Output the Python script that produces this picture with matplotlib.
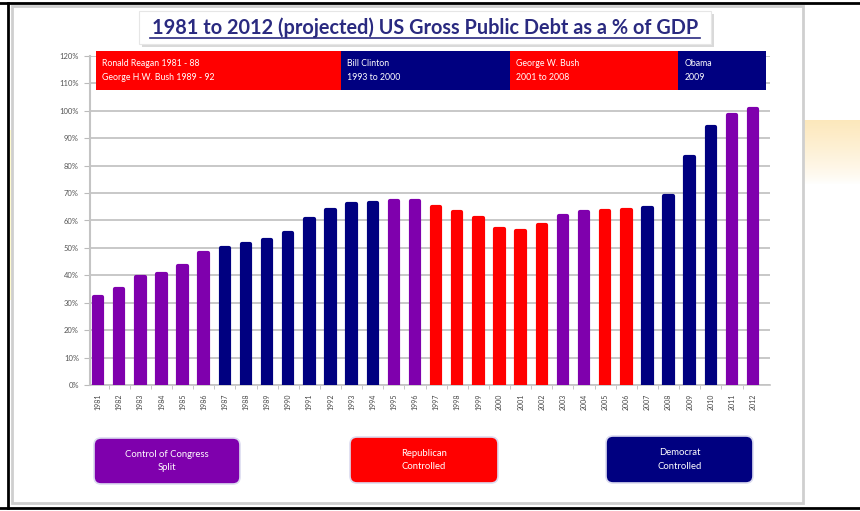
import numpy as np
import matplotlib.pyplot as plt
from matplotlib.patches import Rectangle, FancyBboxPatch

plt.rcParams['font.family'] = ['Lato', 'DejaVu Sans']

years = list(range(1981, 2013))
debt_pct = [32, 35, 39.5, 40.5, 43.5, 48, 50, 51.5, 53, 55.5,
            60.5, 64, 66, 66.5, 67, 67, 65, 63, 61, 57,
            56, 58.5, 61.5, 63, 63.5, 64, 64.5, 69, 83, 94,
            98.5, 100.5]
# who controlled congress each year: S = split, R = republican, D = democrat
control = ['S'] * 6 + ['D'] * 8 + ['S'] * 2 + ['R'] * 6 + ['S'] * 2 + ['R'] * 2 + ['D'] * 4 + ['S'] * 2

PURPLE = '#7f00ad'
RED = '#ff0000'
NAVY = '#000080'
ctrl_colors = {'S': PURPLE, 'R': RED, 'D': NAVY}

# presidential terms across the top of the plot
terms = [
    ("Ronald Reagan 1981 - 88\nGeorge H.W. Bush 1989 - 92", 1980.9, 1992.5, RED),
    ("Bill Clinton\n1993 to 2000", 1992.5, 2000.5, NAVY),
    ("George W. Bush\n2001 to 2008", 2000.5, 2008.45, RED),
    ("Obama\n2009", 2008.45, 2012.6, NAVY),
]

legend_labels = ["Control of Congress\nSplit", "Republican\nControlled", "Democrat\nControlled"]
legend_colors = [PURPLE, RED, NAVY]

W, H = 860, 511
fig = plt.figure(figsize=(W / 100, H / 100), dpi=100)
fig.patch.set_facecolor('white')

def fx(px):
    return px / W

def fy(py):
    return 1 - py / H

# slide background bits and frames
bg = fig.add_axes([0, 0, 1, 1], zorder=-10)
bg.set_xlim(0, W)
bg.set_ylim(H, 0)
bg.axis('off')
grad = np.linspace(1, 0, 60).reshape(-1, 1)
glow = np.zeros((60, 1, 4))
glow[..., 0] = 0.99
glow[..., 1] = 0.88
glow[..., 2] = 0.65
glow[..., 3] = grad[:, :] ** 0.8 * 0.75
bg.imshow(glow, extent=[803, 860, 185, 120], aspect='auto', interpolation='bilinear')
bg.add_patch(Rectangle((8, 130), 4, 170, color='#fffbd0', lw=0))
bg.plot([0, W], [3, 3], color='black', lw=2)
bg.plot([0, W], [508, 508], color='black', lw=2)
bg.plot([8, 8], [3, 508], color='black', lw=2)
bg.add_patch(Rectangle((12, 6), 791, 497, fill=False, ec='#cfcfcf', lw=2))

# title box with a soft shadow
bg.add_patch(Rectangle((142, 14), 572, 33, fc='#d9d9d9', ec='none'))
bg.add_patch(Rectangle((139, 11), 572, 33, fc='white', ec='#e6e6e6', lw=0.8))
bg.text(425, 27.5, "1981 to 2012 (projected) US Gross Public Debt as a % of GDP",
        ha='center', va='center', fontsize=14.3, fontweight='bold', color='#2a2a80')
bg.plot([150, 700], [38.5, 38.5], color='#2a2a80', lw=1.2)

ax = fig.add_axes([fx(90), fy(385), fx(770) - fx(90), fy(56) - fy(385)])
ax.set_xlim(1980.62, 2012.8)
ax.set_ylim(0, 120)

bar_colors = [ctrl_colors[c] for c in control]
ax.bar(years, debt_pct, width=0.4, color=bar_colors, edgecolor=bar_colors,
       linewidth=3, joinstyle='round', zorder=3)

ax.set_yticks(range(0, 121, 10))
ax.set_yticklabels([f"{v}%" for v in range(0, 121, 10)], fontsize=5.5, color='#555555')
ax.yaxis.grid(True, color='#c4c4c4', lw=1.3, zorder=0)
ax.set_axisbelow(True)

ax.set_xticks(years)
ax.set_xticklabels([str(y) for y in years], rotation=90, fontsize=5, color='#444444')
ax.set_xticks([y + 0.5 for y in years[:-1]], minor=True)
ax.tick_params(axis='x', which='major', length=0, pad=6)
ax.tick_params(axis='x', which='minor', length=3, color='#bbbbbb')
ax.tick_params(axis='y', length=4, color='#bbbbbb', pad=4)

for side in ['top', 'right']:
    ax.spines[side].set_visible(False)
ax.spines['left'].set_color('#c4c4c4')
ax.spines['left'].set_linewidth(1.5)
ax.spines['bottom'].set_color('#c4c4c4')
ax.spines['bottom'].set_linewidth(1.2)

for label, x0, x1, col in terms:
    ax.add_patch(Rectangle((x0, 107.5), x1 - x0, 14.5, fc=col, ec='none',
                           clip_on=False, zorder=5))
    ax.text(x0 + 0.3, 114.7, label, color='white', fontsize=6.3, va='center',
            ha='left', linespacing=1.7, zorder=6, clip_on=False)

# control-of-congress key along the bottom
key_boxes = [(94, 438, 146, 46), (350, 437, 148, 46), (606, 436, 147, 47)]
for (x, y, w, h), lab, col in zip(key_boxes, legend_labels, legend_colors):
    bg.add_patch(FancyBboxPatch((x, y), w, h, boxstyle="round,pad=0,rounding_size=7",
                                fc=col, ec='#dcdcf0', lw=1.2))
    bg.text(x + w / 2, y + h / 2, lab, ha='center', va='center', color='white',
            fontsize=6.8, linespacing=1.6)

fig.savefig('out.png', dpi=100)
